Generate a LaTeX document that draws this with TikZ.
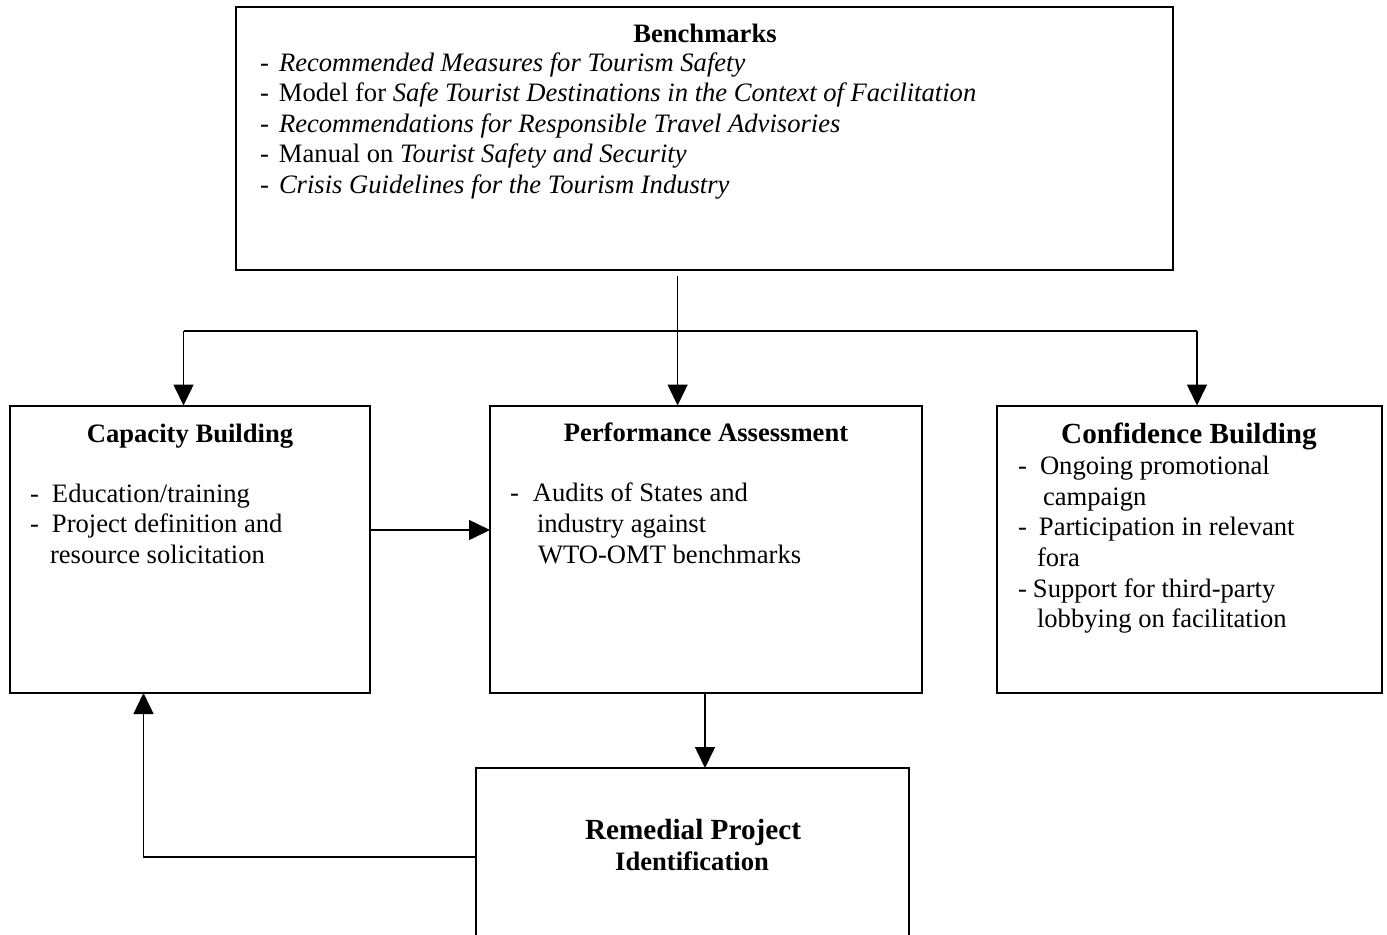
\documentclass[tikz,border=0pt]{standalone}
\usepackage{fontspec}
\setmainfont{Liberation Serif}
\usetikzlibrary{arrows.meta}
\newcommand{\dsh}[1]{\makebox[#1][l]{-}}
\begin{document}
\begin{tikzpicture}[x=0.5pt,y=-0.5pt,
  box/.style={draw,line width=1pt,inner sep=0pt,outer sep=0pt,fill=none},
  txt/.style={inner sep=0pt,outer sep=0pt,anchor=base west,font=\fontsize{13.3}{16}\selectfont},
  ttl/.style={inner sep=0pt,outer sep=0pt,anchor=base,font=\fontsize{13.3}{16}\selectfont\bfseries},
  bigttl/.style={inner sep=0pt,outer sep=0pt,anchor=base,font=\fontsize{14.6}{17}\selectfont\bfseries},
  conn/.style={line width=0.75pt},
  arr/.style={line width=0.75pt,-{Triangle[width=10pt,length=10.5pt]}}]
\useasboundingbox (0,0) rectangle (1387,934);
% boxes
\node[box,minimum width=468.5pt,minimum height=131.5pt] (bench) at (704.5,138.5) {};
\node[box,minimum width=180pt,minimum height=143.75pt] (cap) at (190,549.25) {};
\node[box,minimum width=216pt,minimum height=143.75pt] (perf) at (706,549.25) {};
\node[box,minimum width=192.5pt,minimum height=143.75pt] (conf) at (1189.5,549.25) {};
\node[box,minimum width=216.5pt,minimum height=91pt] (rem) at (692.5,859) {};
% benchmarks text
\node[ttl] (bt) at (705,42) {Benchmarks};
\node[txt] (b1) at (260,71) {\dsh{9.5pt}\textit{Recommended Measures for Tourism Safety}};
\node[txt] (b2) at (260,101) {\dsh{9.5pt}Model for \textit{Safe Tourist Destinations in the Context of Facilitation}};
\node[txt] (b3) at (260,132) {\dsh{9.5pt}\textit{Recommendations for Responsible Travel Advisories}};
\node[txt] (b4) at (260,162) {\dsh{9.5pt}Manual on \textit{Tourist Safety and Security}};
\node[txt] (b5) at (260,193) {\dsh{9.5pt}\textit{Crisis Guidelines for the Tourism Industry}};
% capacity text
\node[ttl] (ct) at (190,442) {Capacity Building};
\node[txt] (c1) at (30,502) {\dsh{11pt}Education/training};
\node[txt] (c2) at (30,532) {\dsh{11pt}Project definition and};
\node[txt] (c3) at (50,563) {resource solicitation};
% performance text
\node[ttl] (pt) at (706,441) {Performance Assessment};
\node[txt] (p1) at (510,501) {\dsh{11.5pt}Audits of States and};
\node[txt] (p2) at (537,532) {industry against};
\node[txt] (p3) at (538,563) {WTO-OMT benchmarks};
% confidence text
\node[bigttl] (cft) at (1189,443) {Confidence Building};
\node[txt] (f1) at (1018,474.5) {\dsh{11pt}Ongoing promotional};
\node[txt] (f2) at (1043,505) {campaign};
\node[txt] (f3) at (1018,535.5) {\dsh{10.5pt}Participation in relevant};
\node[txt] (f4) at (1037,566) {fora};
\node[txt] (f5) at (1018,597) {\dsh{7.5pt}Support for third-party};
\node[txt] (f6) at (1037,627.5) {lobbying on facilitation};
% remedial text
\node[bigttl] (rt1) at (693,839) {Remedial Project};
\node[ttl] (rt2) at (692,870) {Identification};
% connectors
\coordinate (stem) at (677.6,276);
\coordinate (jl) at (183.5,331);
\coordinate (jr) at (1197,331);
\coordinate (hy) at (0,530);
\coordinate (fb) at (143.5,857);
\draw[arr] (stem) -- (stem |- perf.north);
\draw[conn] (jl) -- (jr);
\draw[arr] (jl) -- (jl |- cap.north);
\draw[arr] (jr) -- (jr |- conf.north);
\draw[arr] (cap.east |- hy) -- (perf.west |- hy);
\draw[arr] (perf.south -| 705,0) -- (rem.north -| 705,0);
\draw[arr] (rem.west |- fb) -- (fb) -- (fb |- cap.south);
\end{tikzpicture}
\end{document}
